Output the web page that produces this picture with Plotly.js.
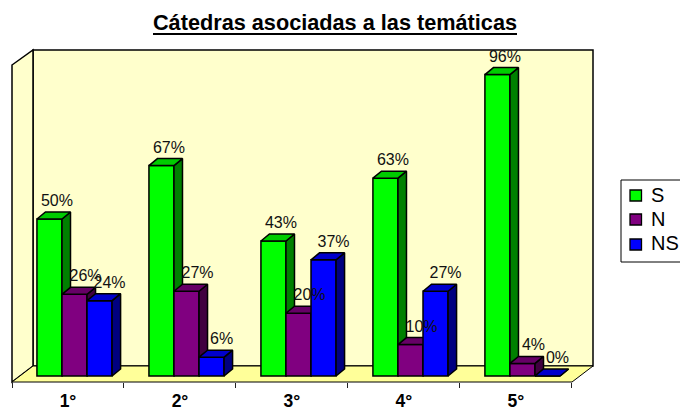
<!DOCTYPE html>
<html>
<head>
<meta charset="utf-8">
<script src="https://cdn.plot.ly/plotly-3.0.1.min.js"></script>
<style>html,body{margin:0;padding:0;background:#fff;overflow:hidden}</style>
</head>
<body>
<div id="chart" style="width:680px;height:410px"></div>
<script>
var categories = ['1°', '2°', '3°', '4°', '5°'];
var valuesS = [50, 67, 43, 63, 96];
var valuesN = [26, 27, 20, 10, 4];
var valuesNS = [24, 6, 37, 27, 0];
var seriesNames = ['S', 'N', 'NS'];
var frontColors = ['#00FF00', '#800080', '#0000FF'];
var topColors = ['#00CC00', '#660066', '#0000CC'];
var sideColors = ['#008000', '#400040', '#000080'];

var FONT = '"Liberation Sans", Arial, sans-serif';
var L = 12, R = 593, T = 50, B = 382;
var pxPerCat = 111.8, pxPerPct = 3.14;
var xRange = [-0.5, 4.5 + 21 / pxPerCat];
var yRange = [-6 / pxPerPct, 326 / pxPerPct];
var barW = 25 / pxPerCat;
var offsets = [-31, -6, 19].map(function (p) { return p / pxPerCat; });
var labelShift = [7.5, 11, 10];
var dx = 8.5 / pxPerCat, dy = 7 / pxPerPct;

function px(x) { return (x - L) / (R - L); }
function py(y) { return (B - y) / (B - T); }
function poly(pts, fill, line, lw) {
  var d = pts.map(function (p, i) { return (i ? 'L' : 'M') + px(p[0]) + ',' + py(p[1]); }).join('') + 'Z';
  return { type: 'path', xref: 'paper', yref: 'paper', path: d, fillcolor: fill, layer: 'below',
    line: { color: line, width: lw } };
}

var allValues = [valuesS, valuesN, valuesNS];
var traces = [];
allValues.forEach(function (vals, s) {
  var suffix = s === 0 ? '' : String(s + 1);
  var xa = 'x' + suffix, ya = 'y' + suffix;
  traces.push({
    type: 'bar', name: seriesNames[s], x: vals.map(function (_, i) { return i; }), y: vals,
    xaxis: xa, yaxis: ya, offset: offsets[s], width: barW, showlegend: false,
    marker: { color: frontColors[s], line: { color: '#000', width: 1.5 } },
    hoverinfo: 'skip'
  });
  var topX = [], topY = [], sideX = [], sideY = [];
  vals.forEach(function (v, i) {
    var l = i + offsets[s], r = l + barW;
    topX.push(l, l + dx, r + dx, r, l, null);
    topY.push(v, v + dy, v + dy, v, v, null);
    sideX.push(r, r + dx, r + dx, r, r, null);
    sideY.push(0, dy, v + dy, v, 0, null);
  });
  [[sideX, sideY, sideColors[s]], [topX, topY, topColors[s]]].forEach(function (f) {
    traces.push({
      type: 'scatter', mode: 'lines', x: f[0], y: f[1], xaxis: xa, yaxis: ya,
      fill: 'toself', fillcolor: f[2], line: { color: '#000', width: 1.5 },
      showlegend: false, hoverinfo: 'skip'
    });
  });
});
allValues.forEach(function (vals, s) {
  traces.push({
    type: 'scatter', mode: 'text', xaxis: 'x3', yaxis: 'y3', showlegend: false, hoverinfo: 'skip',
    x: vals.map(function (_, i) { return i + offsets[s] + barW / 2 + labelShift[s] / pxPerCat; }),
    y: vals.map(function (v) { return v + 17 / pxPerPct; }),
    text: vals.map(function (v) { return v + '%'; }),
    textposition: 'middle center', cliponaxis: false,
    textfont: { family: FONT, size: 16, color: '#111' }
  });
});

var boundaries = categories.map(function (_, i) { return i - 0.5; }).concat([4.5]);
var hiddenX = { range: xRange, visible: false, overlaying: 'x', anchor: 'y', fixedrange: true };

var legendCenters = [195.5, 219.5, 244.5];
var legendShapes = seriesNames.map(function (_, s) {
  var c = legendCenters[s];
  return poly([[630, c - 5.5], [641.5, c - 5.5], [641.5, c + 5.5], [630, c + 5.5]], frontColors[s], '#000', 1.3);
});
var legendLabels = seriesNames.map(function (n, s) {
  return { text: n, xref: 'paper', yref: 'paper', x: px(650), y: py(legendCenters[s] - 1), xanchor: 'left', yanchor: 'middle',
    showarrow: false, borderpad: 0, font: { family: FONT, size: 20, color: '#000' } };
});

var layout = {
  width: 680, height: 410,
  margin: { l: L, r: 680 - R, t: T, b: 410 - B, pad: 0, autoexpand: false },
  paper_bgcolor: '#fff', plot_bgcolor: 'rgba(0,0,0,0)',
  barmode: 'overlay', showlegend: false,
  title: { text: '<b>Cátedras asociadas a las temáticas</b>', x: 335 / 680, xanchor: 'center', y: 1 - 22 / 410, yanchor: 'middle',
    font: { family: FONT, size: 21.7, color: '#000' } },
  xaxis: { range: xRange, tickmode: 'array', tickvals: categories.map(function (_, i) { return i; }), ticktext: categories,
    ticks: '', showgrid: false, zeroline: false, showline: false, fixedrange: true,
    tickfont: { family: FONT, size: 17.5, color: '#000', weight: 'bold' },
    ticklabelstandoff: 6,
    minor: { tickmode: 'array', tickvals: boundaries, ticks: 'outside', ticklen: 5, tickwidth: 1, tickcolor: '#222', showgrid: false } },
  yaxis: { range: yRange, visible: false, fixedrange: true },
  xaxis2: hiddenX, xaxis3: hiddenX,
  yaxis2: { range: yRange, visible: false, overlaying: 'y', fixedrange: true },
  yaxis3: { range: yRange, visible: false, overlaying: 'y', fixedrange: true },
  annotations: legendLabels,
  shapes: [
    poly([[33, 50], [593, 50], [593, 366], [33, 366]], '#FFFFCC', '#000', 1.5),
    poly([[12, 65], [33, 50], [33, 366], [12, 382]], '#FFFFCC', '#000', 1.5),
    poly([[12, 382], [33, 366], [593, 366], [572, 382]], '#FFFF99', '#000', 1),
    poly([[621, 180], [684, 180], [684, 262], [621, 262]], '#FFFFFF', '#000', 1),
    { type: 'line', xref: 'paper', yref: 'paper', x0: px(153), x1: px(517), y0: py(34), y1: py(34), line: { color: '#000', width: 2 } }
  ].concat(legendShapes)
};
Plotly.newPlot('chart', traces, layout, { displayModeBar: false, staticPlot: true });
</script>
</body>
</html>
